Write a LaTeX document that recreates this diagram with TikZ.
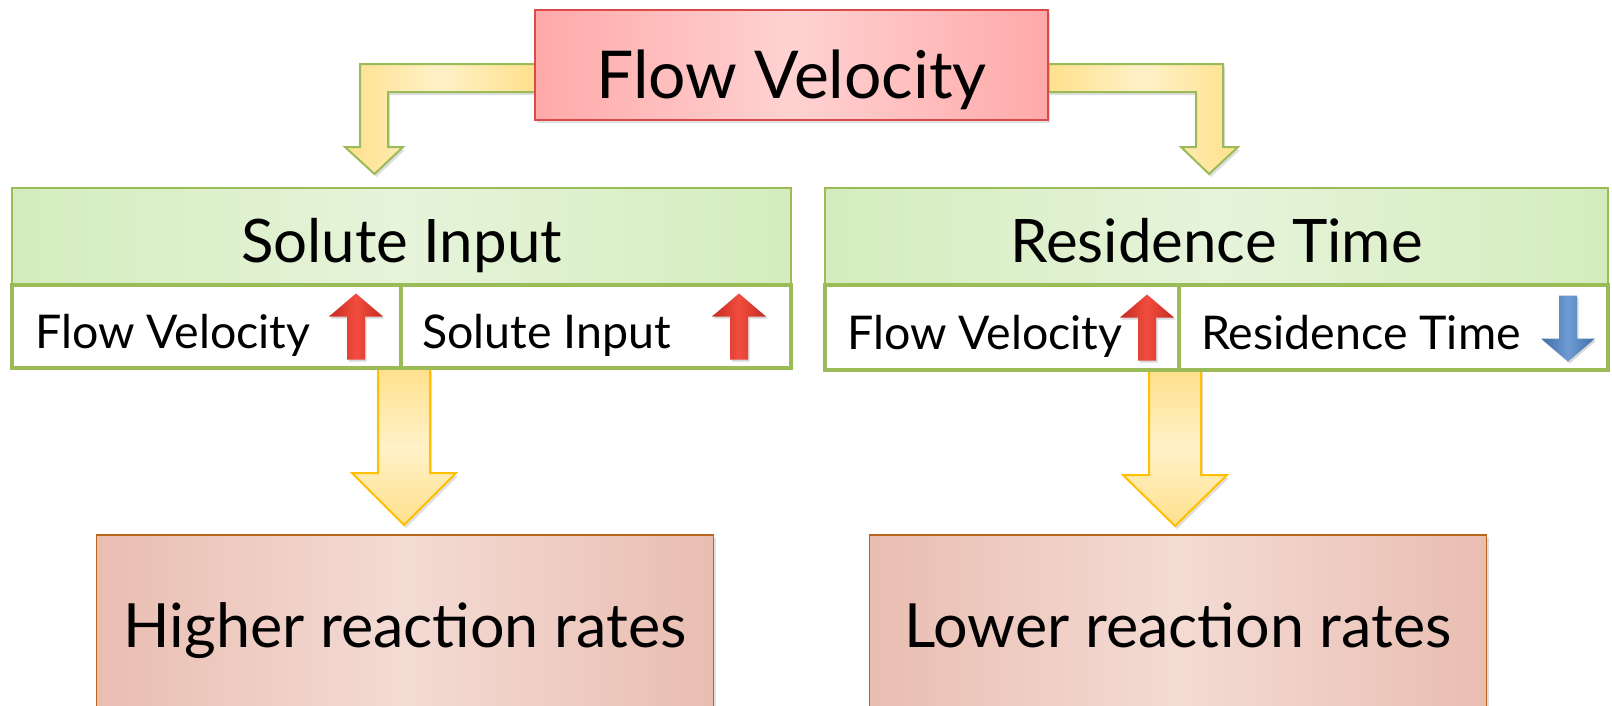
\documentclass[tikz,border=0pt]{standalone}
\usepackage{fontspec}
\setmainfont{Lato}
\usetikzlibrary{shadows,backgrounds}

\definecolor{flowedge}{HTML}{FFA9A9}
\definecolor{flowmid}{HTML}{FFD2D2}
\definecolor{flowline}{HTML}{D94A4A}
\definecolor{hdredge}{HTML}{D4ECBD}
\definecolor{hdrmid}{HTML}{E6F4DA}
\definecolor{hdrline}{HTML}{9BBB59}
\definecolor{arredge}{HTML}{FFE08C}
\definecolor{arrmid}{HTML}{FFF1C8}
\definecolor{arrline}{HTML}{FFC000}
\definecolor{resedge}{HTML}{EABDB1}
\definecolor{resmid}{HTML}{F3DBD4}
\definecolor{resline}{HTML}{B9651E}
\definecolor{upedge}{HTML}{C42B20}
\definecolor{upmid}{HTML}{F24D3F}
\definecolor{downedge}{HTML}{3F6DA8}
\definecolor{downmid}{HTML}{6E9BD3}

\tikzset{
  softshadow/.style={drop shadow={opacity=0.25,shadow xshift=2pt,shadow yshift=-3pt}},
  topbox/.style={draw=flowline, line width=2pt, outer sep=0pt, left color=flowedge, right color=flowedge, middle color=flowmid, minimum width=513pt, minimum height=110pt, softshadow},
  hdrbox/.style={draw=hdrline, line width=2pt, outer sep=0pt, left color=hdredge, right color=hdredge, middle color=hdrmid, minimum height=97pt},
  cellbox/.style={draw=hdrline, line width=4pt, outer sep=0pt, fill=white, minimum height=83pt},
  resultbox/.style={draw=resline, line width=1.5pt, outer sep=0pt, left color=resedge, right color=resedge, middle color=resmid, minimum width=617pt, minimum height=182pt, softshadow},
  elbowarrow/.style={draw=hdrline, line width=2pt, line join=miter, left color=arredge, right color=arredge, middle color=arrmid, softshadow},
  downarrow/.style={draw=arrline, line width=2pt, line join=miter, top color=arredge, bottom color=arredge, middle color=arrmid, softshadow},
  toptext/.style={font=\fontsize{66}{70}\selectfont, anchor=base, inner sep=0pt},
  hdrtext/.style={font=\fontsize{60}{64}\selectfont, anchor=base, inner sep=0pt},
  celltext/.style={font=\fontsize{46.5}{50}\selectfont, anchor=base west, inner sep=0pt},
  restext/.style={font=\fontsize{61}{65}\selectfont, anchor=base, inner sep=0pt},
  redup/.pic={\path[left color=upedge, right color=upedge, middle color=upmid, drop shadow={opacity=0.3,shadow xshift=1.5pt,shadow yshift=-2pt}]
    (-9,33) -- (-9,-10) -- (-27,-10) -- (0,-33) -- (27,-10) -- (9,-10) -- (9,33) -- cycle;},
  bluedown/.pic={\path[left color=downedge, right color=downedge, middle color=downmid, drop shadow={opacity=0.3,shadow xshift=1.5pt,shadow yshift=-2pt}]
    (-9,-33) -- (-9,10) -- (-27,10) -- (0,33) -- (27,10) -- (9,10) -- (9,-33) -- cycle;}
}

\begin{document}
\begin{tikzpicture}[x=1pt,y=-1pt]
\useasboundingbox (0,0) rectangle (1612,705);
\clip (0,0) rectangle (1612,705);

%Shape: Rectangle [flow]
\node[topbox] (flow) at (791.5,65) {};
%Shape: Rectangle [hdrL]
\node[hdrbox, minimum width=779pt] (hdrL) at (401.5,236.5) {};
%Shape: Rectangle [cellL1]
\node[cellbox, minimum width=389pt] (cellL1) at (206.5,326.5) {};
%Shape: Rectangle [cellL2]
\node[cellbox, minimum width=390pt] (cellL2) at (596,326.5) {};
%Shape: Rectangle [hdrR]
\node[hdrbox, minimum width=783pt] (hdrR) at (1216.5,236.5) {};
%Shape: Rectangle [cellR1]
\node[cellbox, minimum width=354pt, minimum height=85pt] (cellR1) at (1002,327.5) {};
%Shape: Rectangle [cellR2]
\node[cellbox, minimum width=429pt, minimum height=85pt] (cellR2) at (1393.5,327.5) {};
%Shape: Rectangle [botL]
\node[resultbox] (botL) at (405,626) {};
%Shape: Rectangle [botR]
\node[resultbox] (botR) at (1178,626) {};

\begin{scope}[on background layer]
%Bent Arrow [flow -> hdrL]
\draw[elbowarrow] ([yshift=1pt]flow.west) -- ++(-175,0) -- ++(0,83) -- ++(-15,0) -- ++(29.5,27) -- ++(28.5,-27) -- ++(-15,0) -- ++(0,-55) -- ++(147,0) -- cycle;
%Bent Arrow [flow -> hdrR]
\draw[elbowarrow] ([yshift=1pt]flow.east) -- ++(175,0) -- ++(0,83) -- ++(15,0) -- ++(-29,27) -- ++(-28,-27) -- ++(15,0) -- ++(0,-55) -- ++(-148,0) -- cycle;
%Down Arrow [cellL1 -> botL]
\draw[downarrow] ([xshift=-23pt]cellL1.south east) -- ++(0,105) -- ++(-26,0) -- ++(52,52) -- ++(52,-52) -- ++(-26,0) -- ++(0,-105) -- cycle;
%Down Arrow [cellR2 -> botR]
\draw[downarrow] ([xshift=-30pt]cellR2.south west) -- ++(0,105) -- ++(-26,0) -- ++(52,51) -- ++(52,-51) -- ++(-26,0) -- ++(0,-105) -- cycle;
\end{scope}

%Small Arrows
\pic at ([xshift=-45pt]cellL1.east) {redup};
\pic at ([xshift=-52pt]cellL2.east) {redup};
\pic at ([xshift=-32pt]cellR1.east) {redup};
\pic at ([xshift=-40pt,yshift=-1pt]cellR2.east) {bluedown};

% Text Node
\node[toptext] (flowtxt) at ([yshift=-33pt]flow.center) {Flow Velocity};
% Text Node
\node[hdrtext] (hdrLtxt) at ([yshift=-26pt]hdrL.center) {Solute Input};
% Text Node
\node[hdrtext] (hdrRtxt) at ([yshift=-26pt]hdrR.center) {Residence Time};
% Text Node
\node[celltext] (cellL1txt) at ([xshift=23pt,yshift=-21.5pt]cellL1.west) {Flow Velocity};
% Text Node
\node[celltext] (cellL2txt) at ([xshift=21pt,yshift=-21.5pt]cellL2.west) {Solute Input};
% Text Node
\node[celltext] (cellR1txt) at ([xshift=22pt,yshift=-22pt]cellR1.west) {Flow Velocity};
% Text Node
\node[celltext] (cellR2txt) at ([xshift=22pt,yshift=-22pt]cellR2.west) {Residence Time};
% Text Node
\node[restext] (botLtxt) at ([yshift=-21pt]botL.center) {Higher reaction rates};
% Text Node
\node[restext] (botRtxt) at ([yshift=-21pt]botR.center) {Lower reaction rates};

\end{tikzpicture}
\end{document}
